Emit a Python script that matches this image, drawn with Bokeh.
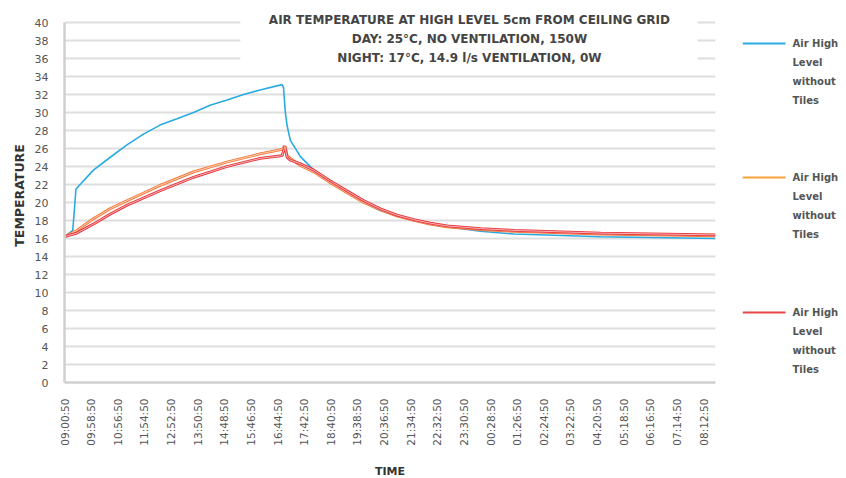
import math
from bokeh.plotting import figure
from bokeh.layouts import row
from bokeh.models import (FixedTicker, Label, BoxAnnotation, Range1d, ColumnDataSource)
from bokeh.core.properties import value
from bokeh.embed import file_html
from bokeh.resources import INLINE

# ---- data (minutes after 09:00:50, temperature in degC) ----
tick_labels = ["09:00:50", "09:58:50", "10:56:50", "11:54:50", "12:52:50", "13:50:50",
               "14:48:50", "15:46:50", "16:44:50", "17:42:50", "18:40:50", "19:38:50",
               "20:36:50", "21:34:50", "22:32:50", "23:30:50", "00:28:50", "01:26:50",
               "02:24:50", "03:22:50", "04:20:50", "05:18:50", "06:16:50", "07:14:50",
               "08:12:50"]
tick_step_min = 58

blue_t = [0, 18, 25, 63, 99, 136, 172, 208, 245, 281, 317, 354, 390, 426, 474,
          477, 481, 485, 492, 514, 543, 579, 615, 652, 688, 724, 761, 797, 833,
          906, 979, 1168, 1418]
blue_v = [16.2, 16.9, 21.5, 23.6, 25.0, 26.4, 27.6, 28.6, 29.3, 30.0, 30.8, 31.4, 32.0, 32.5, 33.1,
          32.8, 30.0, 28.5, 26.9, 25.1, 23.6, 22.3, 21.1, 20.0, 19.1, 18.5, 18.0, 17.6, 17.3,
          16.8, 16.5, 16.2, 16.0]

orange_t = [0, 27, 63, 99, 136, 208, 281, 354, 426, 474, 480, 485, 492, 514, 543, 579,
            615, 652, 688, 724, 761, 797, 833, 906, 979, 1168, 1418]
orange_v = [16.2, 16.9, 18.2, 19.3, 20.2, 21.9, 23.4, 24.5, 25.4, 25.9, 26.3, 25.2, 24.9, 24.1,
            23.4, 22.2, 21.1, 20.0, 19.2, 18.5, 18.0, 17.6, 17.3, 17.0, 16.8, 16.5, 16.3]

red_t = [0, 27, 63, 99, 136, 208, 281, 354, 426, 474, 480, 485, 492, 514, 543, 579,
         615, 652, 688, 724, 761, 797, 833, 906, 979, 1168, 1418]
red_v = [16.2, 16.6, 17.6, 18.7, 19.7, 21.3, 22.8, 24.0, 24.9, 25.2, 26.2, 25.0, 24.7, 24.3,
         23.6, 22.4, 21.3, 20.2, 19.3, 18.6, 18.1, 17.7, 17.4, 17.1, 16.9, 16.6, 16.4]

series_name_lines = ["Air High", "Level", "without", "Tiles"]
series_colors = ["#29abe2", "#f7a23b", "#e8474a"]
title_lines = ["AIR TEMPERATURE AT HIGH LEVEL 5cm FROM CEILING GRID",
               "DAY: 25\u00b0C, NO VENTILATION, 150W",
               "NIGHT: 17\u00b0C, 14.9 l/s VENTILATION, 0W"]

FONT = "DejaVu Sans"
GRAY = "#555555"

TOP, FH, LEFT, FW, RIGHT = 8, 374, 64, 651, 27
PXU = 9.0   # pixels per degree
p = figure(frame_width=FW, frame_height=FH, output_backend="svg", toolbar_location=None,
           x_range=Range1d(0, 1418), y_range=Range1d(0, FH / PXU),
           min_border_left=LEFT, min_border_top=TOP, min_border_bottom=94, min_border_right=RIGHT)
p.outline_line_color = None

# axes
p.yaxis.ticker = FixedTicker(ticks=list(range(0, 41, 2)))
p.yaxis.bounds = (0, 40)
p.xaxis.ticker = FixedTicker(ticks=[i * tick_step_min for i in range(len(tick_labels))])
p.xaxis.major_label_overrides = {i * tick_step_min: lab for i, lab in enumerate(tick_labels)}
p.xaxis.major_label_orientation = math.pi / 2
for ax in (p.xaxis, p.yaxis):
    ax.axis_line_color = "#cfcfcf"
    ax.axis_line_width = 2.5
    ax.major_tick_line_color = None
    ax.minor_tick_line_color = None
    ax.major_label_text_font = FONT
    ax.major_label_text_color = GRAY
    ax.axis_label_text_font = FONT
    ax.axis_label_text_font_style = "bold"
    ax.axis_label_text_color = "#333333"
p.yaxis.major_label_text_font_size = "11px"
p.xaxis.major_label_text_font_size = "10.5px"
p.yaxis.axis_label = "TEMPERATURE"
p.yaxis.axis_label_text_font_size = "12.5px"
p.yaxis.major_label_standoff = 10
p.xaxis.axis_label = "TIME"
p.xaxis.axis_label_text_font_size = "11px"
p.xaxis.major_label_standoff = 10
p.xaxis.axis_label_standoff = 16

p.xgrid.grid_line_color = None
p.ygrid.grid_line_color = "#dedede"
p.ygrid.grid_line_width = 1.8

# lines
p.line(blue_t, blue_v, line_color=series_colors[0], line_width=1.6)
p.line(orange_t, orange_v, line_color="#f47a3a", line_width=2.8)
p.line(orange_t, orange_v, line_color="#fde4d6", line_width=0.8)
p.line(red_t, red_v, line_color="#e8343a", line_width=2.8)
p.line(red_t, red_v, line_color="#f9d4d4", line_width=0.8)

# title block with white background
p.add_layout(BoxAnnotation(left=383, right=1379, bottom=35.2, top=FH / PXU,
                           fill_color="white", fill_alpha=1.0, line_color=None))
frame_bottom = TOP + FH
for i, line in enumerate(title_lines):
    ypix = 19 + 19 * i
    p.add_layout(Label(x=882, y=(frame_bottom - ypix) / PXU, text=line, text_align="center",
                       text_baseline="middle", text_font=FONT, text_font_style="bold",
                       text_font_size="12px", text_color="#444444"))

# legend panel (separate figure whose axes are page pixels)
PX0 = LEFT + FW + RIGHT
LW = 100
leg = figure(frame_width=LW, frame_height=FH, output_backend="svg", toolbar_location=None,
             x_range=Range1d(PX0, PX0 + LW), y_range=Range1d(TOP + FH, TOP),
             min_border=0, x_axis_location=None, y_axis_location=None)
leg.outline_line_color = None
leg.xgrid.visible = False
leg.ygrid.visible = False
leg_y = [43, 177, 312]
leg.segment(x0=[PX0] * 3, y0=leg_y, x1=[PX0 + 43] * 3, y1=leg_y,
            line_color=series_colors, line_width=1.8)
tx, ty, tt = [], [], []
for y0 in leg_y:
    for k, s in enumerate(series_name_lines):
        tx.append(PX0 + 50)
        ty.append(y0 + 19 * k)
        tt.append(s)
leg.text(x=tx, y=ty, text=tt, text_font=value(FONT),
         text_font_size="10px", text_font_style="bold", text_color=GRAY,
         text_baseline="middle")

open("out.html", "w").write(file_html(row(p, leg), INLINE))
